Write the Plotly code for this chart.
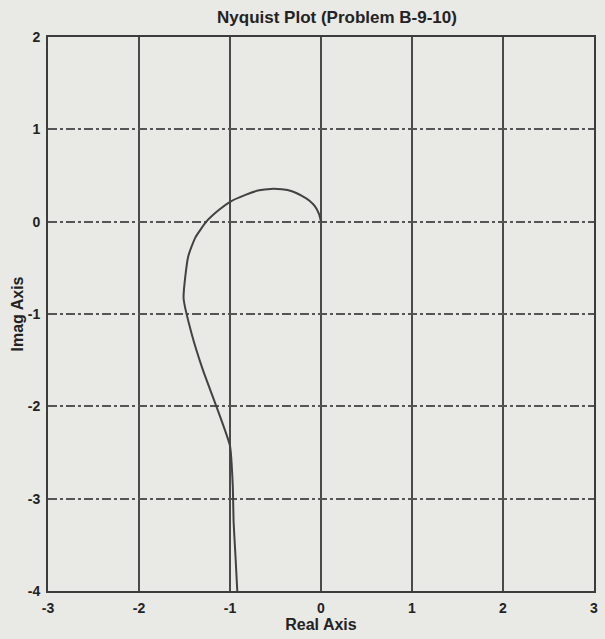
import plotly.graph_objects as go

# Nyquist locus (positive frequencies), real and imaginary parts
real_part = [0.0, -0.02, -0.07, -0.13, -0.21, -0.32, -0.43, -0.55, -0.68,
             -0.83, -0.99, -1.13, -1.26, -1.38, -1.46, -1.51,
             -1.42, -1.30, -1.15, -1.00, -0.97, -0.96, -0.94, -0.92]
imag_part = [0.0, 0.08, 0.17, 0.23, 0.28, 0.33, 0.35, 0.355, 0.34,
             0.29, 0.22, 0.12, 0.0, -0.17, -0.38, -0.83,
             -1.22, -1.60, -2.00, -2.43, -2.85, -3.26, -3.62, -4.00]

x_ticks = [-3, -2, -1, 0, 1, 2, 3]
y_ticks = [-4, -3, -2, -1, 0, 1, 2]

paper = "#e9e9e5"
ink = "#3c3c3c"
text_color = "#232323"
font_family = "Liberation Sans, Arial, sans-serif"

fig = go.Figure()
fig.add_trace(go.Scatter(
    x=real_part, y=imag_part, mode="lines",
    line=dict(color="#424242", width=2, shape="spline", smoothing=0.5),
    showlegend=False, hoverinfo="skip",
))

fig.update_layout(
    width=605, height=639,
    margin=dict(l=48, r=7, t=37, b=48),
    paper_bgcolor=paper, plot_bgcolor=paper,
    font=dict(family=font_family, size=14, color=text_color, weight="bold"),
    title=dict(
        text="Nyquist Plot (Problem B-9-10)",
        x=0.557, xanchor="center", y=0.973, yanchor="middle",
        font=dict(family=font_family, size=17, color=text_color, weight="bold"),
    ),
)

fig.update_xaxes(
    range=[-3, 3], tickvals=x_ticks, ticktext=[str(v) for v in x_ticks],
    tickfont=dict(size=14, weight="bold"),
    showgrid=True, gridcolor="#4a4a4a", gridwidth=1.5, griddash="solid",
    showline=True, linecolor=ink, linewidth=2, mirror=True,
    zeroline=False, ticks="", ticklabelstandoff=3,
    title=dict(text="Real Axis", standoff=1,
               font=dict(family=font_family, size=16, color=text_color,
                         weight="bold")),
)
fig.update_yaxes(
    range=[-4, 2], tickvals=y_ticks, ticktext=[str(v) for v in y_ticks],
    tickfont=dict(size=14, weight="bold"),
    showgrid=True, gridcolor="#555555", gridwidth=1.5, griddash="dashdot",
    showline=True, linecolor=ink, linewidth=2, mirror=True,
    zeroline=False, ticks="", ticklabelstandoff=3,
    title=dict(text="Imag Axis", standoff=0,
               font=dict(family=font_family, size=16, color=text_color,
                         weight="bold")),
)

fig.write_html("out.html")
